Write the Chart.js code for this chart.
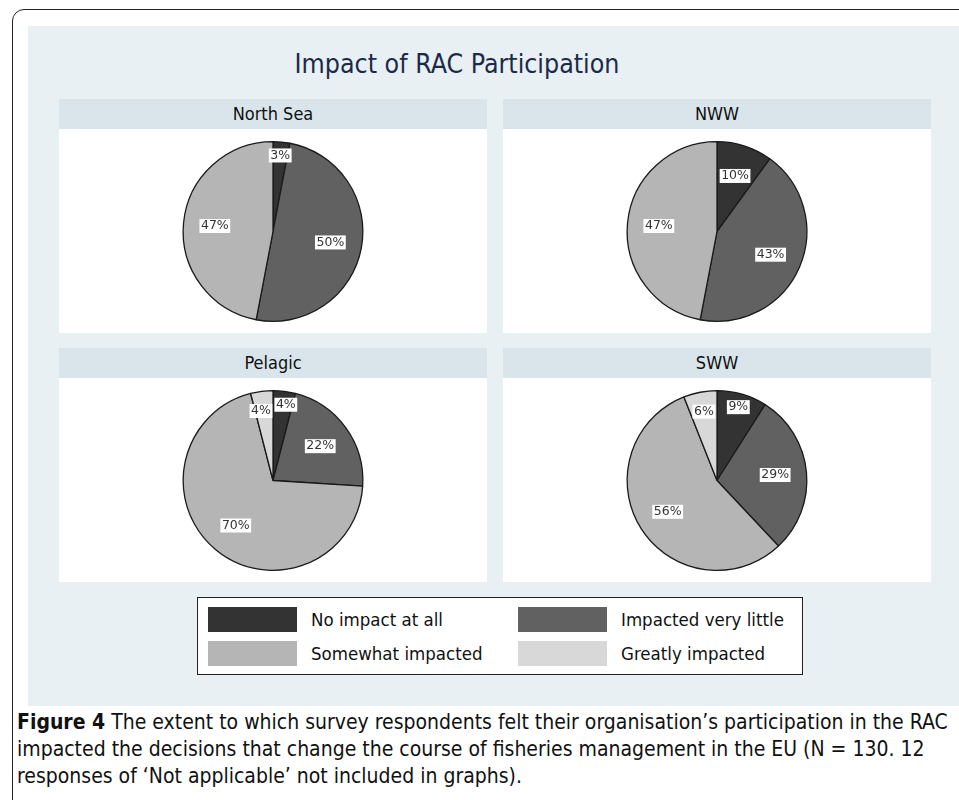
<!DOCTYPE html>
<html>
<head>
<meta charset="utf-8">
<script src="https://cdn.jsdelivr.net/npm/chart.js@4"></script>
<style>
  body { margin: 0; width: 959px; height: 800px; overflow: hidden; background: #fff; font-family: "DejaVu Sans Condensed", "DejaVu Sans", sans-serif; font-stretch: condensed; }
  #frame { position: absolute; left: 12px; top: 9px; width: 1000px; height: 900px; border: 1.5px solid #222; border-radius: 12px; }
  #panel { position: absolute; left: 28px; top: 26px; width: 960px; height: 680px; background: #e9f0f3; }
  #title { position: absolute; left: 0; top: 46px; width: 914px; text-align: center; font-size: 26.5px; color: #1c2a4a; line-height: 36px; }
  .head { position: absolute; width: 428px; height: 30px; line-height: 30px; background: #d9e5eb; text-align: center; font-size: 18px; color: #111; }
  .pie { position: absolute; width: 428px; height: 204px; background: #fff; }
  #legend { position: absolute; left: 197px; top: 597px; width: 604px; height: 76px; background: #fff; border: 1.5px solid #222; }
  .sw { position: absolute; width: 89px; height: 25px; }
  .lt { position: absolute; font-size: 18.5px; line-height: 25px; color: #111; }
  #caption { position: absolute; left: 17px; top: 709px; font-size: 21px; line-height: 27px; color: #111; white-space: nowrap; }
</style>
</head>
<body>
<div id="frame"></div>
<div id="panel"></div>
<div id="title">Impact of RAC Participation</div>
<div id="charts"></div>
<div id="legend"></div>
<div id="caption">
  <div><b>Figure 4</b> The extent to which survey respondents felt their organisation’s participation in the RAC</div>
  <div>impacted the decisions that change the course of fisheries management in the EU (N = 130. 12</div>
  <div>responses of ‘Not applicable’ not included in graphs).</div>
</div>
<script>
const categories = ["No impact at all", "Impacted very little", "Somewhat impacted", "Greatly impacted"];
const colors = ["#333333", "#616161", "#b5b5b5", "#d8d8d8"];
const regions = ["North Sea", "NWW", "Pelagic", "SWW"];
const northSea = [3, 50, 47, 0];
const nww = [10, 43, 47, 0];
const pelagic = [4, 22, 70, 4];
const sww = [9, 29, 56, 6];
const seriesByRegion = [northSea, nww, pelagic, sww];

// panel positions (left, header top)
const panelX = [59, 503, 59, 503];
const panelY = [99, 99, 348, 348];

// white boxed percentage labels inside slices
const sliceLabels = {
  id: "sliceLabels",
  afterDatasetsDraw(chart) {
    const ctx = chart.ctx;
    const meta = chart.getDatasetMeta(0);
    const values = chart.data.datasets[0].data;
    ctx.save();
    ctx.font = "12.5px 'DejaVu Sans'";
    ctx.textAlign = "center";
    ctx.textBaseline = "middle";
    const boxes = [];
    meta.data.forEach((arc, i) => {
      const v = values[i];
      if (!v) return;
      const p = arc.getProps(["x", "y", "startAngle", "endAngle", "outerRadius"], true);
      const mid = (p.startAngle + p.endAngle) / 2;
      const f = v < 10 ? (i === 0 ? 0.85 : 0.78) : 0.65;
      const text = v + "%";
      boxes.push({
        x: p.x + Math.cos(mid) * p.outerRadius * f,
        y: p.y + Math.sin(mid) * p.outerRadius * f,
        w: ctx.measureText(text).width + 3,
        text
      });
    });
    // push overlapping boxes apart sideways
    for (let a = 0; a < boxes.length; a++) {
      for (let b = a + 1; b < boxes.length; b++) {
        const A = boxes[a], B = boxes[b];
        const ox = (A.w + B.w) / 2 - Math.abs(A.x - B.x);
        if (ox > 0 && Math.abs(A.y - B.y) < 14) {
          const s = A.x < B.x ? -1 : 1;
          A.x += s * (ox / 2 + 1);
          B.x -= s * (ox / 2 + 1);
        }
      }
    }
    boxes.forEach(bx => {
      ctx.fillStyle = "#fff";
      ctx.fillRect(bx.x - bx.w / 2, bx.y - 7, bx.w, 14);
      ctx.fillStyle = "#333";
      ctx.fillText(bx.text, bx.x, bx.y);
    });
    ctx.restore();
  }
};

const holder = document.getElementById("charts");
regions.forEach((name, k) => {
  const head = document.createElement("div");
  head.className = "head";
  head.style.left = panelX[k] + "px";
  head.style.top = panelY[k] + "px";
  head.textContent = name;
  holder.appendChild(head);

  const box = document.createElement("div");
  box.className = "pie";
  box.style.left = panelX[k] + "px";
  box.style.top = (panelY[k] + 30) + "px";
  const canvas = document.createElement("canvas");
  canvas.width = 428;
  canvas.height = 204;
  box.appendChild(canvas);
  holder.appendChild(box);

  new Chart(canvas, {
    type: "pie",
    data: {
      labels: categories,
      datasets: [{
        data: seriesByRegion[k],
        backgroundColor: colors,
        borderColor: "#1a1a1a",
        borderWidth: 1.3
      }]
    },
    options: {
      responsive: false,
      animation: false,
      devicePixelRatio: 1,
      layout: { padding: { top: 12, bottom: 11 } },
      plugins: { legend: { display: false }, tooltip: { enabled: false } }
    },
    plugins: [sliceLabels]
  });
});

// legend built from categories and colors
const legend = document.getElementById("legend");
const swX = [10, 320];
const swY = [9, 43];
categories.forEach((c, i) => {
  const col = i % 2, row = Math.floor(i / 2);
  const sw = document.createElement("div");
  sw.className = "sw";
  sw.style.left = swX[col] + "px";
  sw.style.top = swY[row] + "px";
  sw.style.background = colors[i];
  legend.appendChild(sw);
  const lt = document.createElement("div");
  lt.className = "lt";
  lt.style.left = (swX[col] + 103) + "px";
  lt.style.top = swY[row] + "px";
  lt.textContent = c;
  legend.appendChild(lt);
});
</script>
</body>
</html>
